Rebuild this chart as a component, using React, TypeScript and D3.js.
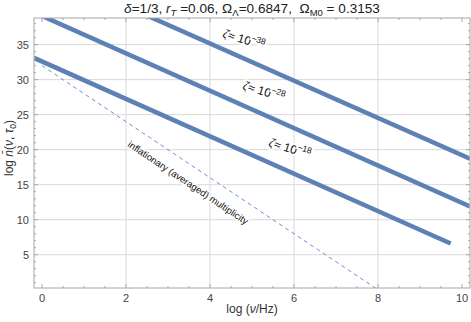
import React from "react";
import * as d3 from "d3";

const W = 471, H = 322;
const xDomain = [-0.19, 10.19];
const yDomain = [0.25, 38.8];
const xTicks = [0, 2, 4, 6, 8, 10];
const yTicks = [5, 10, 15, 20, 25, 30, 35];
const xGrid = [2, 4, 6, 8];
const yGrid = [5, 10, 15, 20, 25, 30, 35];

// series: endpoints
const zeta18X = [-0.19, 9.73];
const zeta18Y = [33.1, 6.6];
const zeta28X = [-0.19, 10.19];
const zeta28Y = [39.6, 11.9];
const zeta38X = [-0.19, 10.19];
const zeta38Y = [46.3, 18.7];
const inflX = [0, 8];
const inflY = [32, 0];

const series = [
  { name: "18", xs: zeta18X, ys: zeta18Y },
  { name: "28", xs: zeta28X, ys: zeta28Y },
  { name: "38", xs: zeta38X, ys: zeta38Y },
];

const L = 34, R = 470, T = 18, B = 288;
const FONT = "'Liberation Sans', Arial, sans-serif";
const BLUE = "#5e81b5";

export default function App() {
  const x = d3.scaleLinear().domain(xDomain).range([L, R]);
  const y = d3.scaleLinear().domain(yDomain).range([B, T]);
  const line = d3.line<[number, number]>().x((d) => x(d[0])).y((d) => y(d[1]));
  const pts = (xs: number[], ys: number[]) => xs.map((v, i) => [v, ys[i]] as [number, number]);

  const xMinor = d3.range(0, 10.01, 0.5).filter((v) => !xTicks.includes(v));
  const yMinor = d3.range(1, 39, 1).filter((v) => !yTicks.includes(v));
  const frame = "#a6a6a6";

  const zLabel = (sx: number, sy: number, sup: string) => (
    <text
      x={sx}
      y={sy}
      transform={`rotate(17 ${sx} ${sy})`}
      fontFamily={FONT}
      fontSize={12}
      fill="#111"
      stroke="white"
      strokeWidth={4}
      paintOrder="stroke"
    >
      <tspan fontStyle="italic">ζ</tspan>
      <tspan>≈ 10</tspan>
      <tspan fontSize={8.5} dy={-5}>{"−" + sup}</tspan>
    </text>
  );

  const infAngle = (Math.atan2(y(0) - y(32), x(8) - x(0)) * 180) / Math.PI;

  return (
    <svg width={W} height={H} style={{ position: "absolute", left: 0, top: 0, background: "white", whiteSpace: "pre" }}>
      <defs>
        <clipPath id="plot">
          <rect x={L} y={T} width={R - L} height={B - T} />
        </clipPath>
      </defs>
      <rect x={0} y={0} width={W} height={H} fill="white" />
      {/* grid */}
      {xGrid.map((v) => (
        <line key={"gx" + v} x1={x(v)} x2={x(v)} y1={T} y2={B} stroke="#d9d9d9" strokeWidth={1} />
      ))}
      {yGrid.map((v) => (
        <line key={"gy" + v} x1={L} x2={R} y1={y(v)} y2={y(v)} stroke="#d9d9d9" strokeWidth={1} />
      ))}
      {/* series */}
      <g clipPath="url(#plot)">
        <path d={line(pts(inflX, inflY)) || ""} fill="none" stroke="#6f8fd0" strokeWidth={1} strokeDasharray="4,3.5" />
        {series.map((s) => (
          <path key={s.name} d={line(pts(s.xs, s.ys)) || ""} fill="none" stroke={BLUE} strokeWidth={4.5} />
        ))}
      </g>
      {/* labels */}
      {zLabel(222, 37, "38")}
      {zLabel(242, 89, "28")}
      {zLabel(268, 146, "18")}
      <text
        x={127}
        y={146}
        transform={`rotate(${infAngle} 127 146)`}
        fontFamily={FONT}
        fontSize={9.6}
        fill="#111"
        stroke="white"
        strokeWidth={3}
        paintOrder="stroke"
      >
        inflationary (averaged) multiplicity
      </text>
      {/* frame */}
      <rect x={L} y={T} width={R - L} height={B - T} fill="none" stroke={frame} strokeWidth={1} />
      {/* ticks */}
      {xTicks.map((v) => (
        <g key={"xt" + v}>
          <line x1={x(v)} x2={x(v)} y1={B} y2={B - 4} stroke={frame} />
          <line x1={x(v)} x2={x(v)} y1={T} y2={T + 4} stroke={frame} />
          <text x={x(v)} y={302} textAnchor="middle" fontFamily={FONT} fontSize={11} fill="#444">
            {v}
          </text>
        </g>
      ))}
      {xMinor.map((v) => (
        <g key={"xm" + v}>
          <line x1={x(v)} x2={x(v)} y1={B} y2={B - 2} stroke={frame} />
          <line x1={x(v)} x2={x(v)} y1={T} y2={T + 2} stroke={frame} />
        </g>
      ))}
      {yTicks.map((v) => (
        <g key={"yt" + v}>
          <line x1={L} x2={L + 4} y1={y(v)} y2={y(v)} stroke={frame} />
          <line x1={R} x2={R - 4} y1={y(v)} y2={y(v)} stroke={frame} />
          <text x={29} y={y(v) + 4} textAnchor="end" fontFamily={FONT} fontSize={11} fill="#444">
            {v}
          </text>
        </g>
      ))}
      {yMinor.map((v) => (
        <g key={"ym" + v}>
          <line x1={L} x2={L + 2} y1={y(v)} y2={y(v)} stroke={frame} />
          <line x1={R} x2={R - 2} y1={y(v)} y2={y(v)} stroke={frame} />
        </g>
      ))}
      {/* title */}
      <text x={252} y={13} textAnchor="middle" fontFamily={FONT} fontSize={13.6} fill="#222" xmlSpace="preserve">
        <tspan fontStyle="italic">δ</tspan>
        <tspan>=1/3, </tspan>
        <tspan fontStyle="italic">r</tspan>
        <tspan fontSize={9.5} fontStyle="italic" dy={3}>T</tspan>
        <tspan dy={-3}>{" =0.06, Ω"}</tspan>
        <tspan fontSize={9.5} dy={3}>Λ</tspan>
        <tspan dy={-3}>{"=0.6847,  Ω"}</tspan>
        <tspan fontSize={9.5} dy={3}>M0</tspan>
        <tspan dy={-3}>{" = 0.3153"}</tspan>
      </text>
      {/* axis labels */}
      <text x={252} y={313} textAnchor="middle" fontFamily={FONT} fontSize={12} fill="#333">
        <tspan>log (</tspan>
        <tspan fontStyle="italic">ν</tspan>
        <tspan>/Hz)</tspan>
      </text>
      <text
        x={13}
        y={148}
        transform="rotate(-90 13 148)"
        textAnchor="middle"
        fontFamily={FONT}
        fontSize={12}
        fill="#333"
      >
        <tspan>log </tspan>
        <tspan fontStyle="italic">n̄</tspan>
        <tspan>(</tspan>
        <tspan fontStyle="italic">ν</tspan>
        <tspan>, </tspan>
        <tspan fontStyle="italic">τ</tspan>
        <tspan fontSize={8.5} dy={3}>0</tspan>
        <tspan dy={-3}>)</tspan>
      </text>
    </svg>
  );
}
